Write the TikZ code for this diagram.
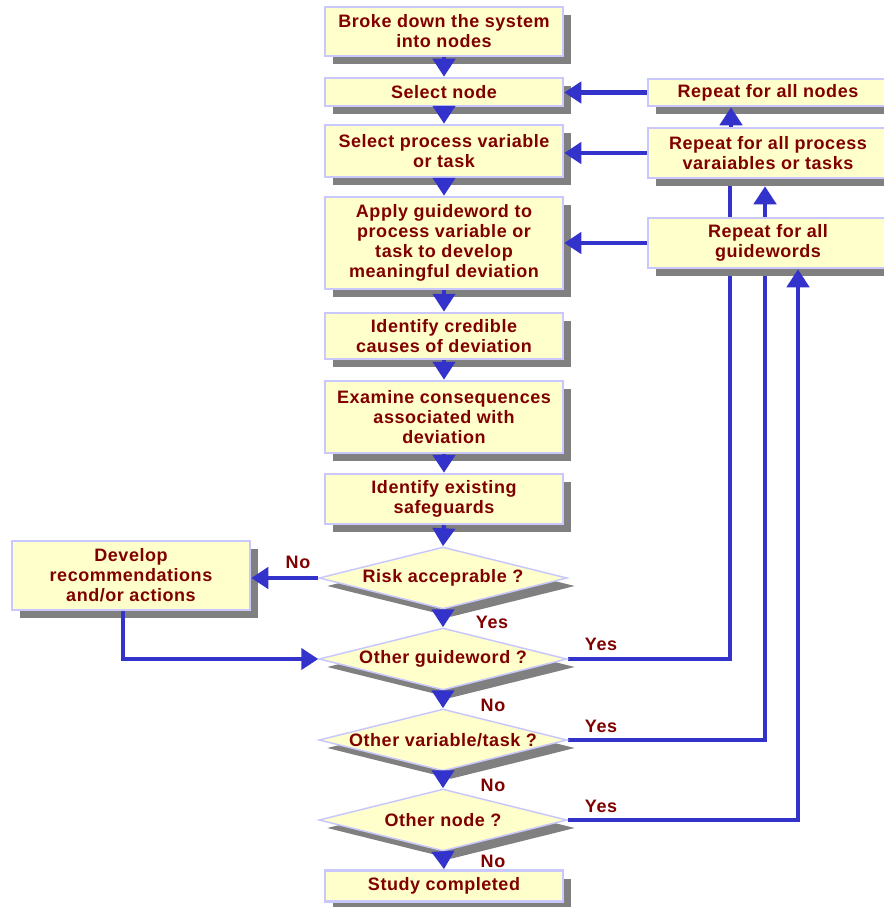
\documentclass[tikz,border=0pt]{standalone}
\usepackage{fontspec}
\setmainfont{Liberation Sans}[LetterSpace=3]
\usetikzlibrary{arrows.meta,shadows,shapes.geometric}
\pgfdeclarelayer{background}
\pgfsetlayers{background,main}
\definecolor{boxfill}{HTML}{FFFFCC}
\definecolor{boxline}{HTML}{C8C8FF}
\definecolor{flow}{HTML}{3333CC}
\definecolor{ink}{HTML}{800000}
\definecolor{shade}{HTML}{808080}

\begin{document}
\begin{tikzpicture}[x=1pt,y=-1pt,
  font=\fontsize{18}{20}\selectfont\bfseries, text=ink,
  stepbox/.style={draw=boxline, line width=2.5pt, fill=boxfill, align=center,
    minimum width=238pt, inner sep=0pt,
    drop shadow={shadow xshift=8pt, shadow yshift=-8pt, fill=shade, opacity=1}},
  decision/.style={shape=diamond, draw=boxline, line width=1.5pt, fill=boxfill,
    minimum width=248pt, minimum height=62pt, inner sep=0pt,
    drop shadow={shadow xshift=8pt, shadow yshift=-8pt, fill=shade, opacity=1}},
  flowline/.style={draw=flow, line width=4.5pt},
  arr/.style={flowline, -{Triangle[length=18pt,width=22pt]}},
  harr/.style={flowline, -{Triangle[length=17pt,width=21pt]}},
]
\useasboundingbox (0,0) rectangle (883,907);

% main column of steps
\node[stepbox, minimum height=49pt] (b1) at (444,31.5) {Broke down the system\\into nodes};
\node[stepbox, minimum height=28pt] (b2) at (444,92) {Select node};
\node[stepbox, minimum height=52pt] (b3) at (444,151) {Select process variable\\or task};
\node[stepbox, minimum height=92pt] (b4) at (444,243) {Apply guideword to\\process variable or\\task to develop\\meaningful deviation};
\node[stepbox, minimum height=46pt] (b5) at (444,336) {Identify credible\\causes of deviation};
\node[stepbox, minimum height=72pt] (b6) at (444,417) {Examine consequences\\associated with\\deviation};
\node[stepbox, minimum height=50pt] (b7) at (444,499) {Identify existing\\safeguards};

% decisions
\node[decision, label={center:Risk acceprable ?}] (d1) at (443,578) {};
\node[decision, label={center:Other guideword ?}] (d2) at (443,659) {};
\node[decision, label={center:Other variable/task ?}] (d3) at (443,740) {};
\node[decision, label={center:Other node ?}] (d4) at (443,820) {};

\node[stepbox, minimum height=31pt] (b8) at (444,886) {Study completed};

% repeat loop boxes
\node[stepbox, minimum width=240pt, minimum height=27pt] (rnodes) at (768,92.5) {Repeat for all nodes};
\node[stepbox, minimum width=240pt, minimum height=50pt] (rproc) at (768,153) {Repeat for all process\\varaiables or tasks};
\node[stepbox, minimum width=240pt, minimum height=50pt] (rguide) at (768,243) {Repeat for all\\guidewords};

% side action box
\node[stepbox, minimum height=69pt] (dev) at (131,575.5) {Develop\\recommendations\\and/or actions};

% main flow
\draw[arr] (b1.south) -- (b2.north);
\draw[arr] (b2.south) -- (b3.north);
\draw[arr] (b3.south) -- (b4.north);
\draw[arr] (b4.south) -- (b5.north);
\draw[arr] (b5.south) -- (b6.north);
\draw[arr] (b6.south) -- (b7.north);
\draw[arr] (b7.south) -- (d1.north);
\draw[arr] (d1.south) -- (d2.north);
\draw[arr] (d2.south) -- (d3.north);
\draw[arr] (d3.south) -- (d4.north);
\draw[arr] (d4.south) -- (b8.north);

% rejected risk branch
\draw[harr] (d1.west) -- (d1.west -| dev.east);
\draw[harr] ([xshift=-8pt]dev.south) |- (d2.west);

% loop returns
\draw[harr] (rnodes.west) -- (rnodes.west -| b2.east);
\draw[harr] (rproc.west) -- (rproc.west -| b3.east);
\draw[harr] (rguide.west) -- (rguide.west -| b4.east);
\draw[arr] ([xshift=-37pt]rproc.north) -- ([xshift=-37pt]rnodes.south);
\draw[arr] (d4.east) -| ([xshift=30pt]rguide.south);

\begin{pgfonlayer}{background}
\draw[flowline] (d2.east) -| ([xshift=-38pt]rproc.south);
\draw[arr] (d3.east) -| ([xshift=-3pt,yshift=-7pt]rproc.south);
\end{pgfonlayer}

% branch labels
\node (lno1) at (298,562) {No};
\node (lyes1) at (492,622) {Yes};
\node (lyes2) at (601,644) {Yes};
\node (lno2) at (493,705) {No};
\node (lyes3) at (601,726) {Yes};
\node (lno3) at (493,785) {No};
\node (lyes4) at (601,806) {Yes};
\node (lno4) at (493,861) {No};
\end{tikzpicture}
\end{document}
